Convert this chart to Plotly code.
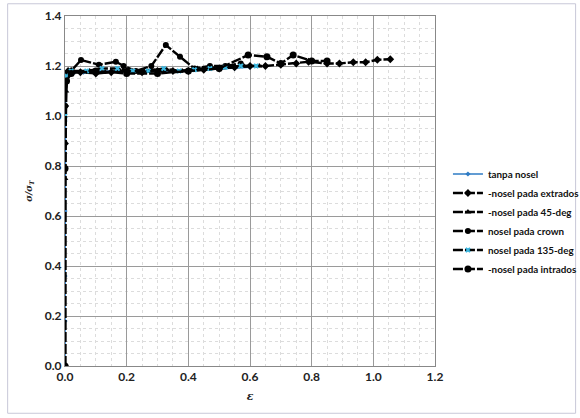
import plotly.graph_objects as go

# ---- data ----
tanpa_x = [0, 0, 0, 0, 0, 0.002, 0.005, 0.01, 0.03, 0.06, 0.1, 0.15, 0.2, 0.25, 0.3, 0.35, 0.4, 0.45, 0.5, 0.55, 0.6]
tanpa_y = [0, 0.18, 0.36, 0.62, 0.98, 1.10, 1.15, 1.17, 1.175, 1.175, 1.178, 1.18, 1.18, 1.178, 1.18, 1.18, 1.182, 1.185, 1.19, 1.19, 1.195]

extr_x = [0, 0, 0.001, 0.003, 0.005, 0.01, 0.02, 0.05, 0.1, 0.15, 0.2, 0.25, 0.3, 0.35, 0.4, 0.45, 0.5, 0.55, 0.6, 0.65,
          0.7, 0.75, 0.79, 0.85, 0.89, 0.935, 0.975, 1.013, 1.055]
extr_y = [0, 0.89, 1.04, 1.14, 1.17, 1.18, 1.18, 1.175, 1.17, 1.175, 1.18, 1.175, 1.18, 1.18, 1.18, 1.185, 1.19, 1.195, 1.2, 1.2,
          1.205, 1.21, 1.217, 1.21, 1.21, 1.215, 1.215, 1.225, 1.227]

deg45_x = [0, 0, 0.003, 0.01, 0.03, 0.08, 0.13, 0.18, 0.23, 0.28, 0.33, 0.38, 0.43, 0.48, 0.53, 0.58, 0.63]
deg45_y = [0, 0.75, 1.10, 1.17, 1.175, 1.18, 1.175, 1.18, 1.18, 1.185, 1.185, 1.18, 1.19, 1.19, 1.195, 1.2, 1.2]

crown_x = [0, 0, 0.005, 0.02, 0.052, 0.11, 0.165, 0.19, 0.23, 0.28, 0.327, 0.373, 0.42, 0.47, 0.52, 0.57]
crown_y = [0, 1.04, 1.16, 1.18, 1.224, 1.205, 1.217, 1.2, 1.18, 1.2, 1.284, 1.237, 1.19, 1.2, 1.2, 1.21]

deg135_x = [0, 0, 0.004, 0.02, 0.07, 0.12, 0.17, 0.22, 0.27, 0.32, 0.37, 0.42, 0.47, 0.52, 0.57, 0.62]
deg135_y = [0, 1.0, 1.16, 1.18, 1.18, 1.19, 1.19, 1.18, 1.18, 1.19, 1.18, 1.185, 1.19, 1.195, 1.2, 1.2]

intr_x = [0, 0, 0.005, 0.02, 0.1, 0.2, 0.3, 0.4, 0.5, 0.594, 0.655, 0.70, 0.74, 0.8, 0.85]
intr_y = [0, 0.79, 1.14, 1.17, 1.18, 1.17, 1.17, 1.18, 1.19, 1.244, 1.237, 1.21, 1.244, 1.22, 1.22]

x_ticks = [0.0, 0.2, 0.4, 0.6, 0.8, 1.0, 1.2]
y_ticks = [0.0, 0.2, 0.4, 0.6, 0.8, 1.0, 1.2, 1.4]

DASH = "10px,2px"
fig = go.Figure()
fig.add_trace(go.Scatter(x=tanpa_x, y=tanpa_y, name="<b>tanpa nosel</b>", mode="lines+markers",
                         line=dict(color="#2E7BC4", width=1.5),
                         marker=dict(symbol="diamond", size=4, color="#2E7BC4")))
fig.add_trace(go.Scatter(x=extr_x, y=extr_y, name="<b>-nosel pada extrados</b>", mode="lines+markers",
                         line=dict(color="black", width=2.4, dash=DASH),
                         marker=dict(symbol="diamond", size=6, color="black")))
fig.add_trace(go.Scatter(x=deg45_x, y=deg45_y, name="<b>-nosel pada 45-deg</b>", mode="lines+markers",
                         line=dict(color="black", width=2.4, dash=DASH),
                         marker=dict(symbol="triangle-up", size=6, color="black")))
fig.add_trace(go.Scatter(x=crown_x, y=crown_y, name="<b>nosel pada crown</b>", mode="lines+markers",
                         line=dict(color="black", width=2.4, dash=DASH),
                         marker=dict(symbol="circle", size=6, color="black")))
fig.add_trace(go.Scatter(x=deg135_x, y=deg135_y, name="<b>nosel pada 135-deg</b>", mode="lines+markers",
                         line=dict(color="black", width=2.4, dash=DASH),
                         marker=dict(symbol="x", size=5, color="#3BB7E0")))
fig.add_trace(go.Scatter(x=intr_x, y=intr_y, name="<b>-nosel pada intrados</b>", mode="lines+markers",
                         line=dict(color="black", width=2.4, dash=DASH),
                         marker=dict(symbol="circle", size=7, color="black")))

tick_font = dict(family="Lato", size=12, color="#222")
fig.update_xaxes(range=[0, 1.2], tickvals=x_ticks, ticktext=[f"<b>{v:.1f}</b>" for v in x_ticks],
                 showgrid=True, gridcolor="#9a9a9a", gridwidth=1,
                 minor=dict(dtick=0.05, showgrid=True, gridcolor="#dcdcdc", griddash="dot"),
                 showline=True, linecolor="#888", mirror=True, zeroline=False, ticks="",
                 tickfont=tick_font,
                 title=dict(text="<b><i>ε</i></b>", font=dict(family="DejaVu Serif", size=11, color="#222"), standoff=8))
fig.update_yaxes(range=[0, 1.4], tickvals=y_ticks, ticktext=[f"<b>{v:.1f}</b>" for v in y_ticks],
                 showgrid=True, gridcolor="#9a9a9a", gridwidth=1,
                 minor=dict(dtick=0.05, showgrid=True, gridcolor="#dcdcdc", griddash="dot"),
                 showline=True, linecolor="#888", mirror=True, zeroline=False, ticks="",
                 tickfont=tick_font,
                 title=dict(text="<b><i>σ/σ<sub>T</sub></i></b>", font=dict(family="DejaVu Serif", size=9, color="#222"), standoff=10))

fig.update_layout(
    width=580, height=418,
    margin=dict(l=65, r=145, t=16, b=52, autoexpand=False),
    paper_bgcolor="white", plot_bgcolor="white",
    showlegend=True,
    legend=dict(x=1.035, xanchor="left", y=0.59, yanchor="top",
                font=dict(family="Lato", size=9.8, color="#111"),
                tracegroupgap=0, itemwidth=30, bgcolor="rgba(0,0,0,0)"),
    shapes=[dict(type="rect", xref="paper", yref="paper", x0=-0.155, x1=1.38, y0=-0.135, y1=1.035,
                 line=dict(color="#c8c8d8", width=1))],
)

fig.write_html("out.html")
